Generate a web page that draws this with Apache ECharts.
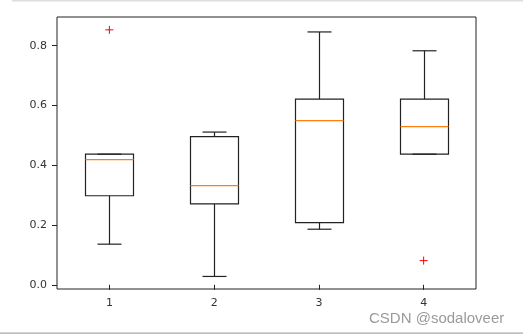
<!DOCTYPE html>
<html>
<head>
<meta charset="utf-8">
<script src="https://cdn.jsdelivr.net/npm/echarts@6/dist/echarts.min.js"></script>
<style>html,body{margin:0;padding:0;background:#fff;}#c{width:523px;height:335px;}</style>
</head>
<body>
<div id="c"></div>
<script>
var positions = [1, 2, 3, 4];
var tickLabelsX = ['1', '2', '3', '4'];
var tickValuesY = [0.0, 0.2, 0.4, 0.6, 0.8];
var lowerWhisker = [0.136, 0.028, 0.186, 0.437];
var q1 = [0.298, 0.271, 0.208, 0.437];
var median = [0.419, 0.332, 0.549, 0.529];
var q3 = [0.437, 0.496, 0.621, 0.621];
var upperWhisker = [0.437, 0.511, 0.846, 0.783];
var outlierX = [1, 4];
var outlierY = [0.853, 0.081];

var boxData = positions.map(function (p, i) {
  return [p, lowerWhisker[i], q1[i], median[i], q3[i], upperWhisker[i]];
});
var outlierData = outlierX.map(function (x, i) { return [x, outlierY[i]]; });

var chart = echarts.init(document.getElementById('c'), null, {renderer: 'canvas'});
var font = 'DejaVu Sans';
var BOX_W = 48, CAP_W = 24;

chart.setOption({
  animation: false,
  backgroundColor: '#fff',
  grid: {left: 57, top: 17, right: 47, bottom: 46, show: true, borderColor: '#222', borderWidth: 1, backgroundColor: 'transparent'},
  xAxis: {
    type: 'value', min: 0.5, max: 4.5,
    splitLine: {show: false},
    axisLine: {show: false},
    axisTick: {show: true, length: 5, inside: false, customValues: positions, lineStyle: {color: '#222'}},
    axisLabel: {customValues: positions, margin: 9, fontFamily: font, fontSize: 11, color: '#333',
      formatter: function (v) { return tickLabelsX[positions.indexOf(v)]; }}
  },
  yAxis: {
    type: 'value', min: -0.014, max: 0.896,
    splitLine: {show: false},
    axisLine: {show: false},
    axisTick: {show: true, length: 5, inside: false, customValues: tickValuesY, lineStyle: {color: '#222'}},
    axisLabel: {customValues: tickValuesY, margin: 10, fontFamily: font, fontSize: 11, color: '#333',
      formatter: function (v) { return v.toFixed(1); }}
  },
  series: [
    {
      type: 'custom',
      data: boxData,
      encode: {x: 0, y: [1, 2, 3, 4, 5]},
      renderItem: function (params, api) {
        var x = api.value(0);
        var pLo = api.coord([x, api.value(1)]);
        var pQ1 = api.coord([x, api.value(2)]);
        var pMed = api.coord([x, api.value(3)]);
        var pQ3 = api.coord([x, api.value(4)]);
        var pHi = api.coord([x, api.value(5)]);
        var cx = Math.round(pLo[0]) + 0.5;
        var bl = cx - BOX_W / 2, br = cx + BOX_W / 2;
        var ln = {stroke: '#222', lineWidth: 1.2, fill: null};
        return {
          type: 'group',
          children: [
            {type: 'line', shape: {x1: cx, y1: pQ1[1], x2: cx, y2: pLo[1]}, style: ln},
            {type: 'line', shape: {x1: cx, y1: pQ3[1], x2: cx, y2: pHi[1]}, style: ln},
            {type: 'line', shape: {x1: cx - CAP_W / 2, y1: pLo[1], x2: cx + CAP_W / 2, y2: pLo[1]}, style: ln},
            {type: 'line', shape: {x1: cx - CAP_W / 2, y1: pHi[1], x2: cx + CAP_W / 2, y2: pHi[1]}, style: ln},
            {type: 'rect', shape: {x: bl, y: pQ3[1], width: BOX_W, height: pQ1[1] - pQ3[1]}, style: ln},
            {type: 'line', shape: {x1: bl, y1: pMed[1], x2: br, y2: pMed[1]}, style: {stroke: '#ff7f0e', lineWidth: 1.3}}
          ]
        };
      }
    },
    {
      type: 'scatter',
      data: outlierData,
      symbol: 'path://M0,-1L0,1M-1,0L1,0',
      symbolSize: 8,
      itemStyle: {color: 'transparent', borderColor: '#ff0000', borderWidth: 1, opacity: 1}
    }
  ],
  graphic: [
    {type: 'rect', shape: {x: 12, y: 0, width: 511, height: 1.5}, style: {fill: '#dddddd'}},
    {type: 'rect', shape: {x: 0, y: 332.5, width: 523, height: 1.2}, style: {fill: '#a8a8a8'}},
    {type: 'text', left: 369, top: 311, style: {text: 'CSDN @sodaloveer', fontFamily: 'Liberation Sans', fontSize: 15, fill: '#9a9a9a'}}
  ]
});
</script>
</body>
</html>
